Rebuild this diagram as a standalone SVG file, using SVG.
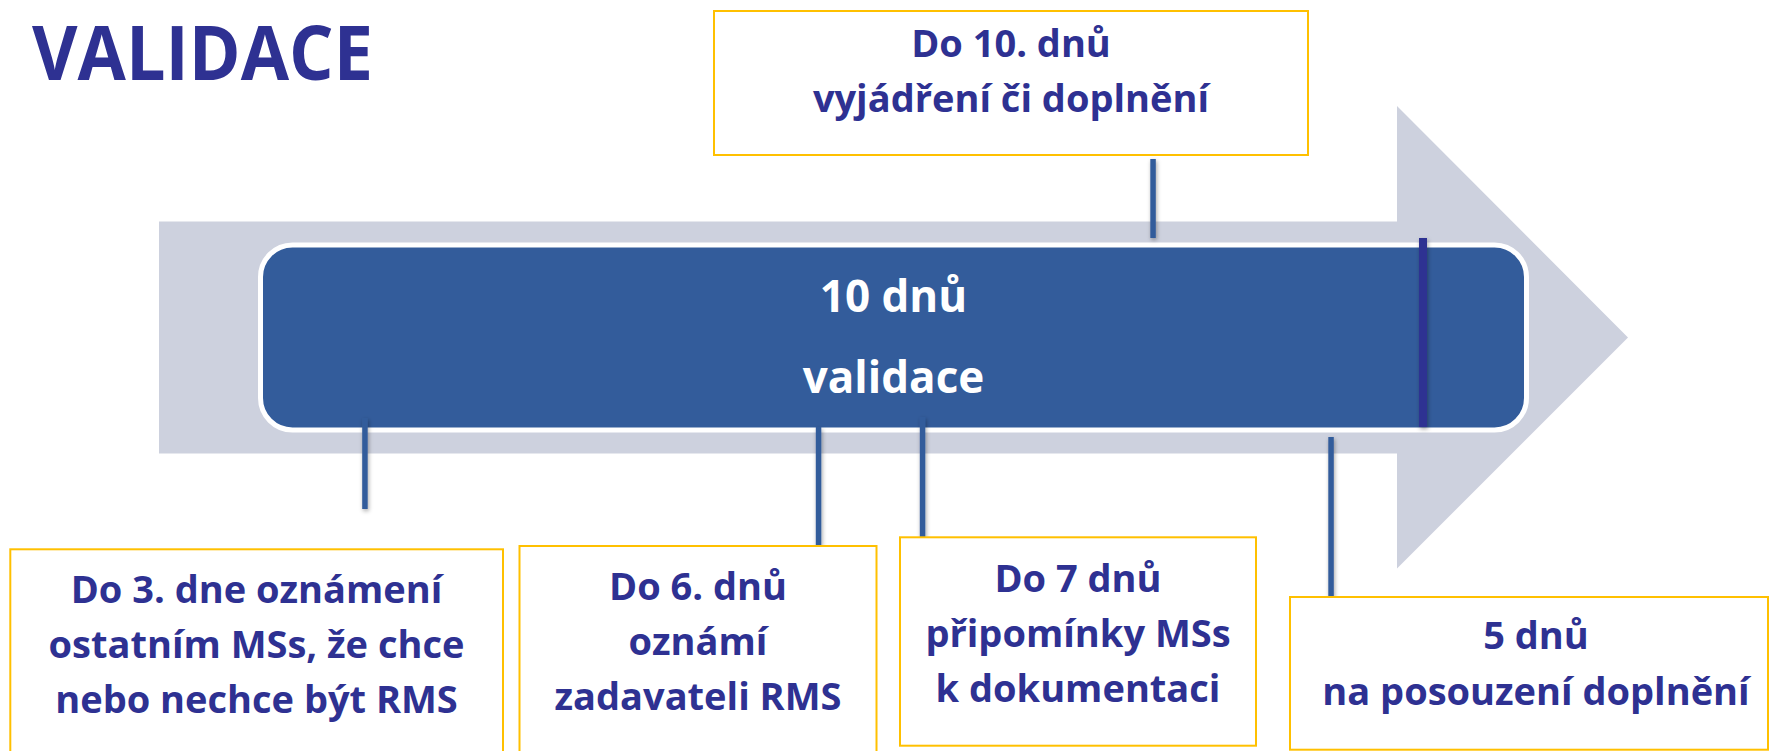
<svg xmlns="http://www.w3.org/2000/svg" width="1771" height="751" viewBox="0 0 1771 751">
  <style>
    .box { fill: #ffffff; stroke: #FFC000; stroke-width: 2; }
    .t { font-family: "Open Sans", Lato, "Liberation Sans", sans-serif; font-weight: bold; fill: #2E3192; font-size: 38px; text-anchor: middle; }
    .w { font-family: "Open Sans", Lato, "Liberation Sans", sans-serif; font-weight: bold; fill: #ffffff; font-size: 44px; text-anchor: middle; }
    .ln { fill: #335C9B; }
  </style>
  <defs>
    <filter id="sh" filterUnits="userSpaceOnUse" x="0" y="0" width="1771" height="751">
      <feDropShadow dx="1" dy="2" stdDeviation="2" flood-color="#000000" flood-opacity="0.35"/>
    </filter>
  </defs>
  <rect x="0" y="0" width="1771" height="751" fill="#ffffff"/>

  <g id="title">
    <text x="32" y="80" font-family="'Open Sans', Lato, 'Liberation Sans', sans-serif" font-weight="bold" font-size="75" fill="#2E3192" textLength="341" lengthAdjust="spacingAndGlyphs">VALIDACE</text>
  </g>

  <g id="arrow">
    <polygon points="159,221.5 1397,221.5 1397,106 1628,337.5 1397,568.5 1397,453.5 159,453.5" fill="#CDD1DE"/>
  </g>

  <g id="bar">
    <rect x="260.5" y="245" width="1266" height="185" rx="32" ry="32" fill="#335C9B" stroke="#ffffff" stroke-width="5"/>
    <text class="w" x="893.5" y="311.7">10 dnů</text>
    <text class="w" x="893.5" y="393.3">validace</text>
  </g>

  <g id="connectors" filter="url(#sh)">
    <rect class="ln" x="362.2" y="418" width="5.5" height="91"/>
    <rect class="ln" x="815.8" y="427" width="5.5" height="119"/>
    <rect class="ln" x="919.8" y="417" width="5.5" height="120.5"/>
    <rect class="ln" x="1328.3" y="437" width="5.5" height="160"/>
    <rect class="ln" x="1150.3" y="159" width="5.5" height="79"/>
    <rect x="1419" y="238" width="8" height="189" fill="#2E3192"/>
  </g>

  <g id="box-top">
    <rect class="box" x="714" y="11" width="594" height="144"/>
    <text class="t" x="1011" y="56.7">Do 10. dnů</text>
    <text class="t" x="1011" y="111.7">vyjádření či doplnění</text>
  </g>

  <g id="box-1">
    <rect class="box" x="10.3" y="549.3" width="492.7" height="215"/>
    <text class="t" x="256.5" y="603">Do 3. dne oznámení</text>
    <text class="t" x="256.5" y="658">ostatním MSs, že chce</text>
    <text class="t" x="256.5" y="713">nebo nechce být RMS</text>
  </g>

  <g id="box-2">
    <rect class="box" x="519.5" y="546" width="357" height="215"/>
    <text class="t" x="698" y="600">Do 6. dnů</text>
    <text class="t" x="698" y="655">oznámí</text>
    <text class="t" x="698" y="710">zadavateli RMS</text>
  </g>

  <g id="box-3">
    <rect class="box" x="900" y="537.3" width="356" height="208.4"/>
    <text class="t" x="1078" y="591.7">Do 7 dnů</text>
    <text class="t" x="1078" y="646.7">připomínky MSs</text>
    <text class="t" x="1078" y="701.7">k dokumentaci</text>
  </g>

  <g id="box-4">
    <rect class="box" x="1290" y="597" width="478" height="152.7"/>
    <text class="t" x="1536" y="649">5 dnů</text>
    <text class="t" x="1536" y="705">na posouzení doplnění</text>
  </g>
</svg>
